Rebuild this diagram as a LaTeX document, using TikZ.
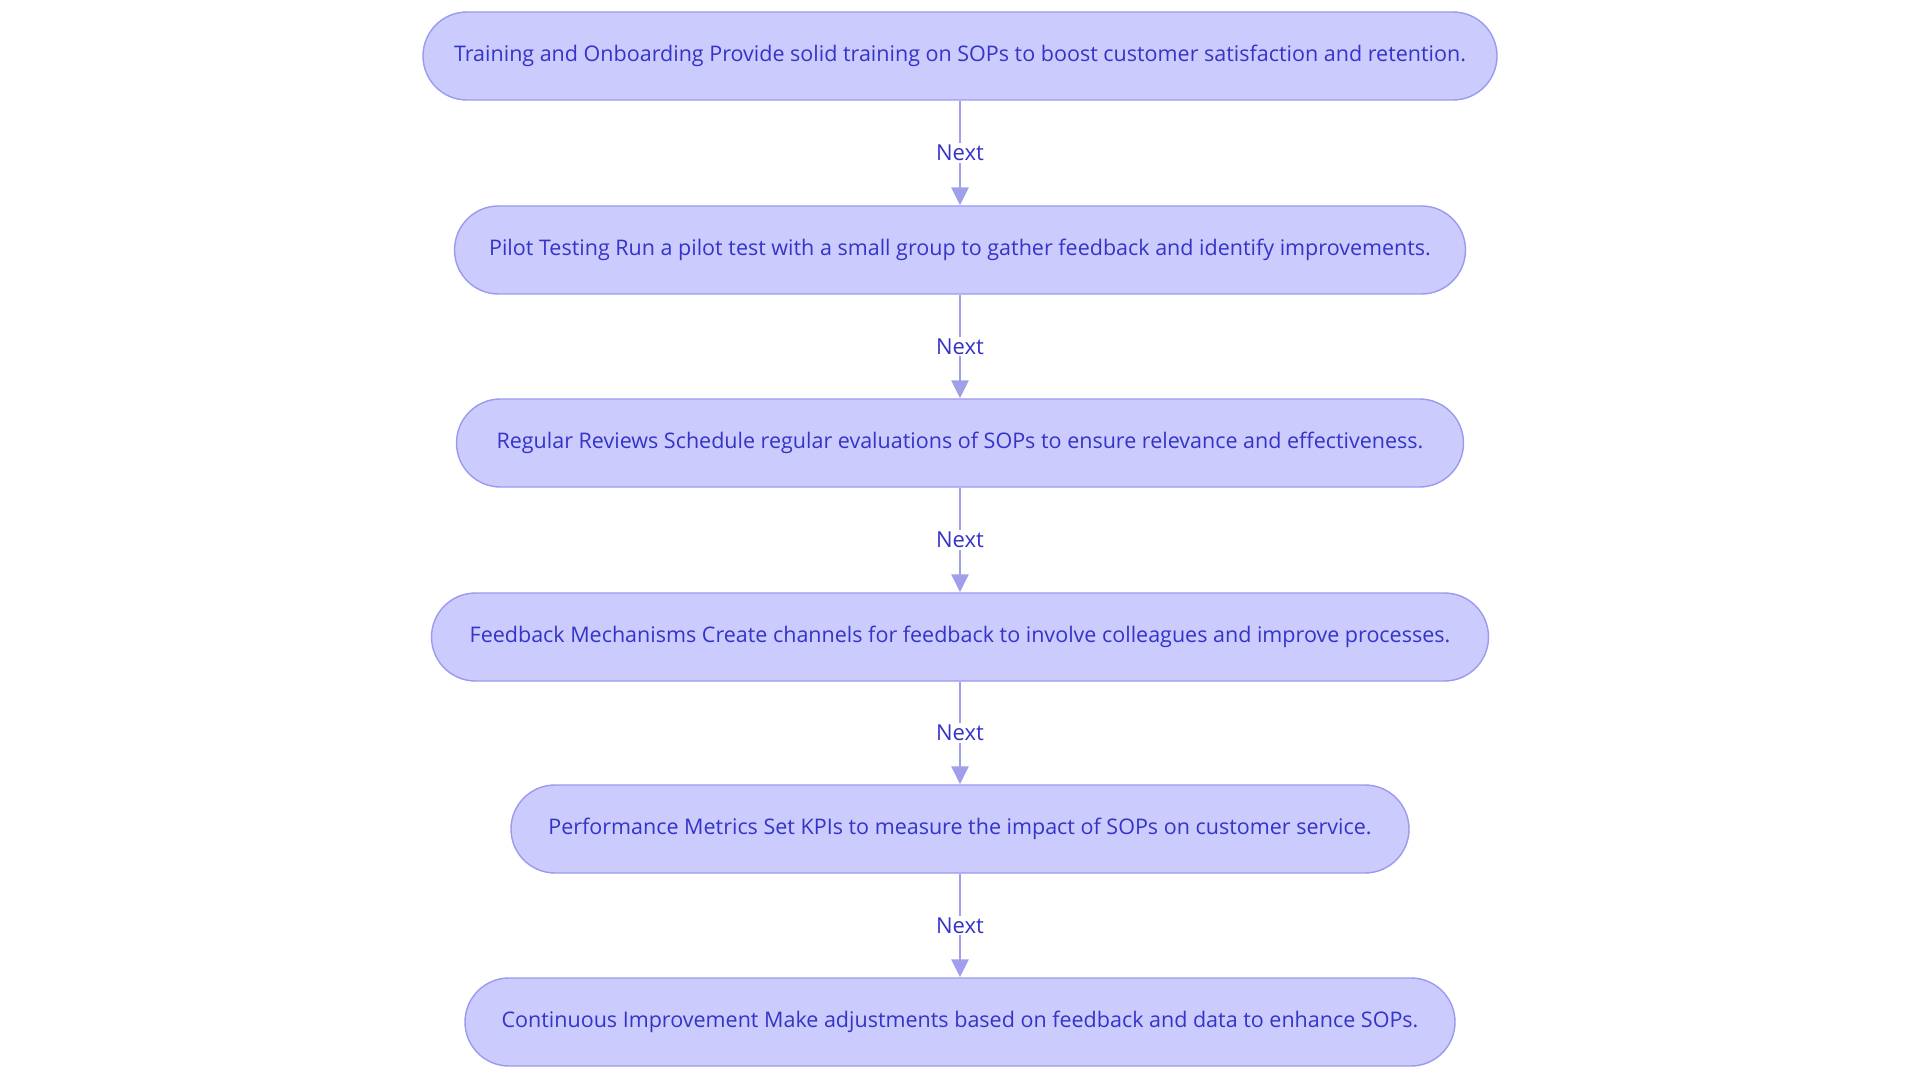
\documentclass[tikz,border=0pt]{standalone}
\usepackage{fontspec}
\setmainfont{Open Sans}
\usetikzlibrary{arrows.meta}
\definecolor{nfill}{HTML}{CBCBFD}
\definecolor{ndraw}{HTML}{9A9AEE}
\definecolor{ntext}{HTML}{3434C8}
\definecolor{edge}{HTML}{A0A0EA}
\begin{document}
\begin{tikzpicture}[x=1pt,y=-1pt,
  box/.style={draw=ndraw,fill=nfill,line width=1.4pt,rounded corners=44pt,minimum height=88pt,text=ntext,font=\fontsize{21.5}{24}\selectfont,inner sep=0pt},
  arr/.style={draw=edge,line width=2.8pt,-{Triangle[length=18pt,width=17pt]}},
  lab/.style={fill=white,text=ntext,font=\fontsize{22}{24}\selectfont,inner sep=2pt}]
\useasboundingbox (0,0) rectangle (1920,1083);
\node[box,minimum width=1074pt] (n1) at (960,56) {Training and Onboarding Provide solid training on SOPs to boost customer satisfaction and retention.};
\node[box,minimum width=1011pt] (n2) at (960,250) {Pilot Testing Run a pilot test with a small group to gather feedback and identify improvements.};
\node[box,minimum width=1007pt] (n3) at (960,443) {Regular Reviews Schedule regular evaluations of SOPs to ensure relevance and effectiveness.};
\node[box,minimum width=1057pt] (n4) at (960,637) {Feedback Mechanisms Create channels for feedback to involve colleagues and improve processes.};
\node[box,minimum width=898pt] (n5) at (960,829) {Performance Metrics Set KPIs to measure the impact of SOPs on customer service.};
\node[box,minimum width=990pt] (n6) at (960,1022) {Continuous Improvement Make adjustments based on feedback and data to enhance SOPs.};
\foreach \a/\b in {n1/n2,n2/n3,n3/n4,n4/n5,n5/n6}
  \draw[arr] (\a) -- node[lab] {Next} (\b);
\end{tikzpicture}
\end{document}
